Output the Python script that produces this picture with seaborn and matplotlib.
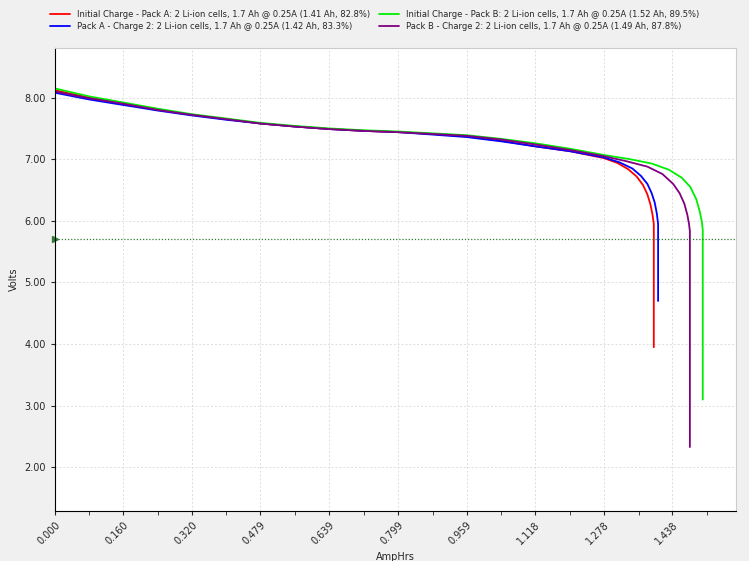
import matplotlib
matplotlib.use("Agg")
import matplotlib.pyplot as plt
import seaborn as sns
import numpy as np
import pandas as pd

ticks = [0.000, 0.160, 0.320, 0.479, 0.639, 0.799, 0.959, 1.118, 1.278, 1.438]

labels = ["Initial Charge - Pack A: 2 Li-ion cells, 1.7 Ah @ 0.25A (1.41 Ah, 82.8%)",
          "Pack A - Charge 2: 2 Li-ion cells, 1.7 Ah @ 0.25A (1.42 Ah, 83.3%)",
          "Initial Charge - Pack B: 2 Li-ion cells, 1.7 Ah @ 0.25A (1.52 Ah, 89.5%)",
          "Pack B - Charge 2: 2 Li-ion cells, 1.7 Ah @ 0.25A (1.49 Ah, 87.8%)"]
colors = ["#ff0000", "#0000ff", "#00ee00", "#800080"]

# values (AmpHrs, Volts)
red_x = [0.0, 0.08, 0.16, 0.24, 0.32, 0.4, 0.479, 0.56, 0.639, 0.72, 0.799, 0.88, 0.959, 1.04, 1.118, 1.2, 1.278,
         1.31, 1.335, 1.355, 1.37, 1.38, 1.387, 1.392, 1.395, 1.395]
red_y = [8.12, 8.0, 7.9, 7.8, 7.72, 7.65, 7.58, 7.53, 7.49, 7.46, 7.44, 7.41, 7.37, 7.3, 7.21, 7.13, 7.02,
         6.94, 6.84, 6.72, 6.58, 6.43, 6.27, 6.1, 5.95, 3.95]
blue_x = [0.0, 0.08, 0.16, 0.24, 0.32, 0.4, 0.479, 0.56, 0.639, 0.72, 0.799, 0.88, 0.959, 1.04, 1.118, 1.2, 1.278,
          1.315, 1.345, 1.365, 1.38, 1.39, 1.397, 1.402, 1.405, 1.405]
blue_y = [8.08, 7.97, 7.88, 7.79, 7.71, 7.64, 7.58, 7.53, 7.49, 7.46, 7.44, 7.4, 7.36, 7.29, 7.21, 7.13, 7.03,
          6.95, 6.85, 6.73, 6.6, 6.45, 6.3, 6.12, 5.95, 4.7]
green_x = [0.0, 0.08, 0.16, 0.24, 0.32, 0.4, 0.479, 0.56, 0.639, 0.72, 0.799, 0.88, 0.959, 1.04, 1.118, 1.2, 1.278,
           1.34, 1.39, 1.43, 1.46, 1.48, 1.494, 1.502, 1.507, 1.509, 1.509]
green_y = [8.15, 8.02, 7.92, 7.82, 7.73, 7.66, 7.59, 7.54, 7.5, 7.47, 7.45, 7.42, 7.39, 7.33, 7.26, 7.17, 7.07,
           7.0, 6.93, 6.83, 6.7, 6.55, 6.35, 6.15, 5.98, 5.85, 3.1]
purple_x = [0.0, 0.08, 0.16, 0.24, 0.32, 0.4, 0.479, 0.56, 0.639, 0.72, 0.799, 0.88, 0.959, 1.04, 1.118, 1.2, 1.278,
            1.33, 1.38, 1.415, 1.44, 1.455, 1.466, 1.473, 1.477, 1.479, 1.479]
purple_y = [8.1, 7.99, 7.9, 7.8, 7.72, 7.65, 7.58, 7.53, 7.49, 7.46, 7.44, 7.41, 7.38, 7.32, 7.24, 7.15, 7.05,
            6.97, 6.88, 6.76, 6.6, 6.45, 6.28, 6.1, 5.95, 5.83, 2.33]

cutoff = 5.7

frames = []
for lab, xs, ys in zip(labels, [red_x, blue_x, green_x, purple_x], [red_y, blue_y, green_y, purple_y]):
    frames.append(pd.DataFrame({"AmpHrs": xs, "Volts": ys, "series": lab}))
df = pd.concat(frames)

sns.set_style("white")
fig = plt.figure(figsize=(7.49, 5.61), dpi=100, facecolor="#f0f0f0")
ax = fig.add_axes([0.073, 0.09, 0.91, 0.825])
ax.set_facecolor("white")

for lab, c in zip(labels, colors):
    d = df[df.series == lab]
    sns.lineplot(data=d, x="AmpHrs", y="Volts", sort=False, estimator=None, color=c,
                 linewidth=1.3, ax=ax, label=lab)

ax.axhline(cutoff, color="#2e7d32", linestyle=(0, (1, 1.5)), linewidth=0.9)
ax.plot([0.0], [cutoff], marker=">", color="#2e7d32", markersize=4, clip_on=False)

ax.set_xlim(0, 1.587)
ax.set_ylim(1.3, 8.81)
ax.set_xticks(ticks)
ax.set_xticklabels([f"{t:.3f}" for t in ticks], rotation=45, ha="right", rotation_mode="anchor", fontsize=7)
ax.set_xticks(np.arange(0.08, 1.587, 0.16), minor=True)
ax.set_yticks([2, 3, 4, 5, 6, 7, 8])
ax.set_yticklabels([f"{v:.2f}" for v in [2, 3, 4, 5, 6, 7, 8]], fontsize=7)
ax.tick_params(axis="both", which="both", direction="out", length=3, left=True, bottom=True)
ax.grid(True, color="#dddddd", linestyle=(0, (2, 2)), linewidth=0.7)
ax.set_xlabel("AmpHrs", fontsize=7)
ax.set_ylabel("Volts", fontsize=7)
for s in ["top", "right"]:
    ax.spines[s].set_color("#cccccc")
for s in ["left", "bottom"]:
    ax.spines[s].set_color("black")

h, l = ax.get_legend_handles_labels()
if ax.legend_:
    ax.legend_.remove()
fig.legend(h, l, loc="upper center", ncol=2, bbox_to_anchor=(0.5, 0.995), fontsize=6,
           frameon=False, handlelength=2.5, columnspacing=1.0, labelspacing=0.3)

fig.savefig("out.png", dpi=100, facecolor=fig.get_facecolor())
